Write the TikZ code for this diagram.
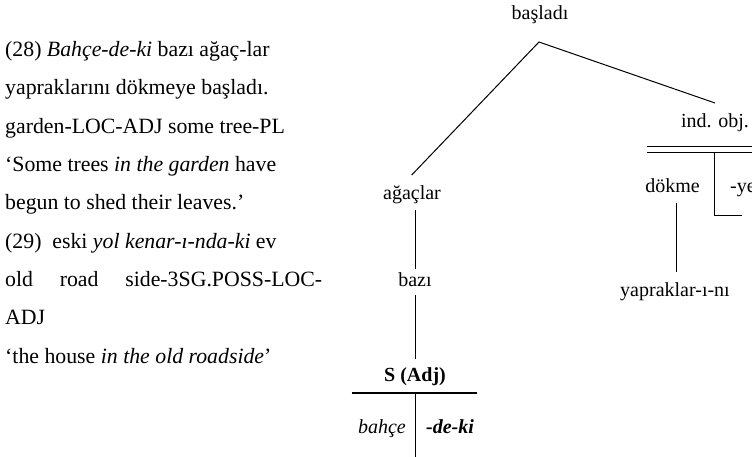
\documentclass[tikz,border=0pt]{standalone}
\usepackage{fontspec}
\setmainfont{Liberation Serif}
\usepackage{tikz}
\tikzset{
  word/.style={anchor=base, inner sep=0pt, font=\fontsize{20}{24}\selectfont},
  gloss/.style={anchor=base west, inner sep=0pt, font=\fontsize{21.8}{26}\selectfont},
  branch/.style={line width=1pt},
}

\begin{document}
\begin{tikzpicture}[x=1pt, y=-1pt]
                    \useasboundingbox (0, 0) rectangle (752, 457);
                    % Example sentences
                    \node[gloss] (l1) at (5, 56.7) {(28) \textit{Bahçe-de-ki} bazı ağaç-lar};
                    \node[gloss] (l2) at (5, 95) {yapraklarını dökmeye başladı.};
                    \node[gloss] (l3) at (5, 133.3) {garden-LOC-ADJ some tree-PL};
                    \node[gloss] (l4) at (5, 171.6) {‘Some trees \textit{in the garden} have};
                    \node[gloss] (l5) at (5, 209.9) {begun to shed their leaves.’};
                    \node[gloss] (l6) at (5, 248.2) {(29)\ \ eski \textit{yol kenar-ı-nda-ki} ev};
                    \node[gloss] (l7) at (5, 286.5) {\makebox[317pt][s]{old road side-3SG.POSS-LOC-}};
                    \node[gloss] (l8) at (5, 324.8) {ADJ};
                    \node[gloss] (l9) at (5, 363.1) {‘the house \textit{in the old roadside}’};

                    % Root and branches
                    \node[word] (root) at (540, 19.5) {başladı};
                    \coordinate (top) at (539, 42);
                    \coordinate (left) at (411.7, 175);
                    \coordinate (right) at (715, 103);
                    \draw[branch] (left) -- (top) -- (right);

                    % Subject side
                    \node[word] (agac) at (412, 200) {ağaçlar};
                    \node[word] (bazi) at (415, 286) {bazı};
                    \node[word, font=\fontsize{20}{24}\selectfont\bfseries] (sadj) at (415, 381.7) {S (Adj)};
                    \coordinate (a1) at (415.7, 210);
                    \coordinate (a2) at (415.7, 269);
                    \coordinate (b1) at (415.7, 295);
                    \coordinate (b2) at (415.7, 359);
                    \draw[branch] (a1) -- (a2);
                    \draw[branch] (b1) -- (b2);
                    \coordinate (sl) at (351.7, 392.7);
                    \coordinate (sr) at (477, 392.7);
                    \coordinate (sm) at (415.7, 392.7);
                    \coordinate (sb) at (415.7, 457);
                    \draw[line width=2pt] (sl) -- (sr);
                    \draw[branch] (sm) -- (sb);
                    \node[word, anchor=base east] (bahce) at (406, 433) {\textit{bahçe}};
                    \node[word, anchor=base west] (deki) at (426, 433) {\textbf{\textit{-de-ki}}};

                    % Object side
                    \node[word] (ind) at (715, 128) {ind. obj.};
                    \coordinate (d1) at (647, 146.7);
                    \coordinate (d2) at (752, 146.7);
                    \coordinate (d3) at (647, 152.3);
                    \coordinate (d4) at (752, 152.3);
                    \draw[branch] (d1) -- (d2);
                    \draw[branch] (d3) -- (d4);
                    \coordinate (v1) at (714.3, 152.3);
                    \coordinate (v2) at (714.3, 216);
                    \coordinate (v3) at (741.7, 216);
                    \draw[branch] (v1) -- (v2) -- (v3);
                    \node[word] (dokme) at (672.5, 193) {dökme};
                    \node[word, anchor=base west] (ye) at (730, 193) {-ye};
                    \coordinate (k1) at (676, 203);
                    \coordinate (k2) at (676, 271.7);
                    \draw[branch] (k1) -- (k2);
                    \node[word] (yap) at (675, 296.7) {yapraklar-ı-nı};
\end{tikzpicture}
\end{document}
